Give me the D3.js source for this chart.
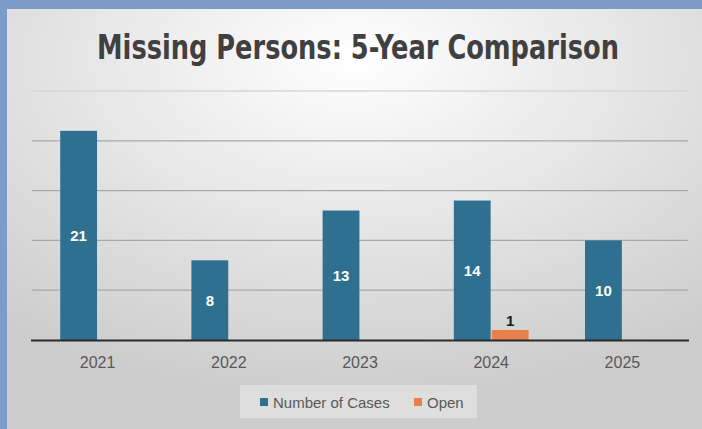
<!DOCTYPE html>
<html><head><meta charset="utf-8">
<script src="https://cdn.jsdelivr.net/npm/d3@7"></script>
<style>html,body{margin:0;padding:0;background:#7b9cc8;}svg{display:block;}</style>
</head><body>
<svg id="chart" width="702" height="429"></svg>
<script>
const title = "Missing Persons: 5-Year Comparison";
const years = ["2021", "2022", "2023", "2024", "2025"];
const seriesNames = ["Number of Cases", "Open"];
const numberOfCases = [21, 8, 13, 14, 10];
const openCases = [null, null, null, 1, null];
const yTicks = [0, 5, 10, 15, 20, 25];
const colors = ["#2f7091", "#e8804a"];

const svg = d3.select("#chart");
const W = 702, H = 429;
const defs = svg.append("defs");
const grad = defs.append("radialGradient").attr("id", "bg")
  .attr("cx", "0.5").attr("cy", "0.12").attr("r", "0.8").attr("fx","0.5").attr("fy","0.12");
grad.append("stop").attr("offset", "0").attr("stop-color", "#ffffff");
grad.append("stop").attr("offset", "0.55").attr("stop-color", "#e3e3e3");
grad.append("stop").attr("offset", "1").attr("stop-color", "#cdcdcd");

svg.append("rect").attr("width", W).attr("height", H).attr("fill", "#7b9cc8");
svg.append("rect").attr("x", 7).attr("y", 9).attr("width", W - 7).attr("height", H - 9).attr("fill", "url(#bg)");

// title (condensed, scaled horizontally to the reference width)
const tg = svg.append("g");
const tt = tg.append("text").attr("x", 0).attr("y", 0).attr("text-anchor", "middle")
  .attr("font-family", "'Liberation Sans Narrow', 'DejaVu Sans Condensed', sans-serif")
  .attr("font-weight", "bold").attr("font-size", 34).attr("fill", "#404040")
  .text(title);
const tw = tt.node().getComputedTextLength();
const sx = Math.min(1, 522 / tw);
tg.attr("transform", `translate(358,59) scale(${sx},1)`);

const x0 = d3.scaleBand().domain(years).range([32, 688]).padding(0);
const bw = x0.bandwidth();
const x1 = d3.scaleBand().domain(seriesNames).range([bw * 0.215, bw * 0.785]).paddingInner(0.03);
const y = d3.scaleLinear().domain([0, 25]).range([340, 91]);

// gridlines
svg.append("g").selectAll("line").data(yTicks.filter(d => d > 0)).join("line")
  .attr("x1", 32).attr("x2", 688)
  .attr("y1", d => y(d)).attr("y2", d => y(d))
  .attr("stroke", (d) => d === 25 ? "#d6d6d6" : "#a9a9a9").attr("stroke-width", 1.3);

const rows = years.map((yr, i) => ({ yr, vals: [numberOfCases[i], openCases[i]] }));
const groups = svg.append("g").selectAll("g").data(rows).join("g")
  .attr("transform", d => `translate(${x0(d.yr)},0)`);

groups.selectAll("rect").data(d => d.vals.map((v, k) => ({ v, k })).filter(e => e.v != null)).join("rect")
  .attr("x", e => x1(seriesNames[e.k])).attr("width", x1.bandwidth())
  .attr("y", e => y(e.v)).attr("height", e => y(0) - y(e.v))
  .attr("fill", e => colors[e.k]);

groups.selectAll("text").data(d => d.vals.map((v, k) => ({ v, k })).filter(e => e.v != null)).join("text")
  .attr("x", e => x1(seriesNames[e.k]) + x1.bandwidth() / 2)
  .attr("y", e => e.k === 0 ? (y(e.v) + y(0)) / 2 + 6 : y(e.v) - 4)
  .attr("text-anchor", "middle")
  .attr("font-family", "'Liberation Sans', Arial, sans-serif").attr("font-weight", "bold").attr("font-size", 15)
  .attr("fill", e => e.k === 0 ? "#ffffff" : "#1a1a1a")
  .text(e => e.v);

// baseline
svg.append("line").attr("x1", 31).attr("x2", 689).attr("y1", y(0) + 0.5).attr("y2", y(0) + 0.5)
  .attr("stroke", "#2b2b2b").attr("stroke-width", 2);

// x axis
const xAxis = svg.append("g").attr("transform", `translate(0,${y(0)})`)
  .call(d3.axisBottom(x0).tickSize(0).tickPadding(17));
xAxis.select(".domain").remove();
xAxis.selectAll("text").attr("font-family", "'Liberation Sans', Arial, sans-serif")
  .attr("font-size", 16).attr("fill", "#595959");

// legend
const lg = svg.append("g");
lg.append("rect").attr("x", 240).attr("y", 385).attr("width", 237).attr("height", 33).attr("fill", "#e2e2e2").attr("opacity", 0.8);
const items = [{ name: seriesNames[0], x: 260 }, { name: seriesNames[1], x: 414 }];
items.forEach((it, i) => {
  lg.append("rect").attr("x", it.x).attr("y", 398).attr("width", 8).attr("height", 8).attr("fill", colors[i]);
  lg.append("text").attr("x", it.x + 13).attr("y", 407.5)
    .attr("font-family", "'Liberation Sans', Arial, sans-serif").attr("font-size", 15).attr("fill", "#595959")
    .text(it.name);
});
</script>
</body></html>
